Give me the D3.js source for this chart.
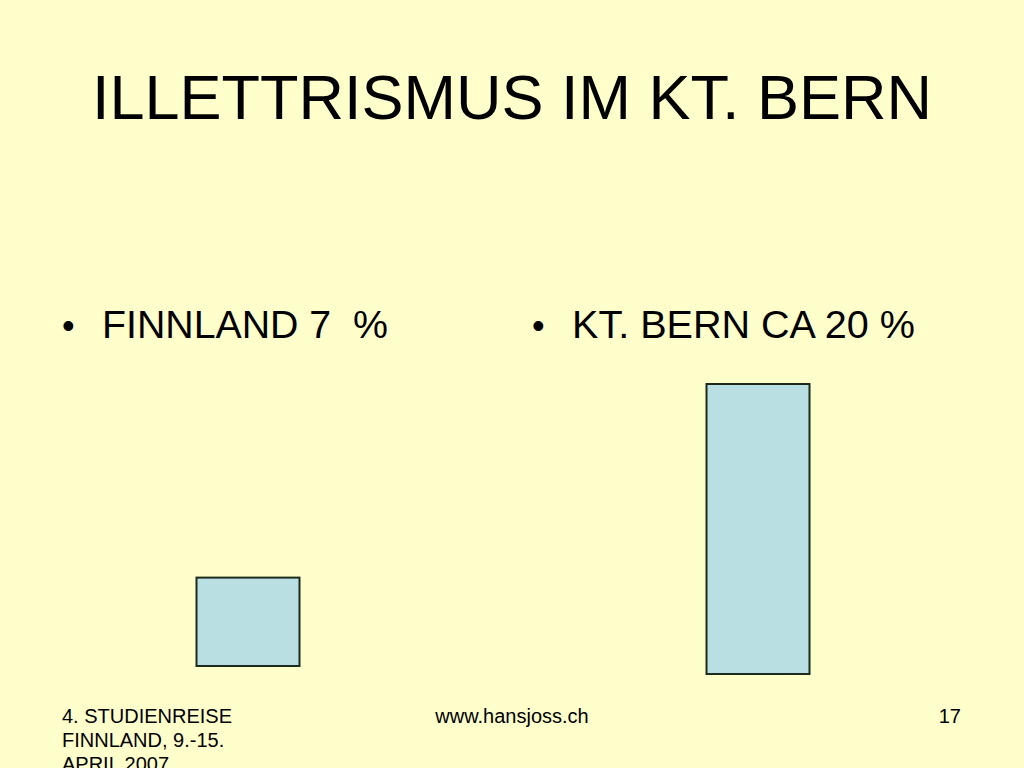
<!DOCTYPE html>
<html>
<head>
<meta charset="utf-8">
<script src="https://cdn.jsdelivr.net/npm/d3@7"></script>
<style>
  html, body { margin: 0; padding: 0; background: #FFFFCC; overflow: hidden; }
  svg { display: block; }
  text { font-family: "Liberation Sans", Arial, sans-serif; fill: #000; white-space: pre; }
</style>
</head>
<body>
<script>
// ---- data ----
const title = "ILLETTRISMUS IM KT. BERN";
const categories = ["FINNLAND", "KT. BERN"];
const labels = ["FINNLAND 7  %", "KT. BERN CA 20 %"];
const values = [7, 20];
const footerLeft = ["4. STUDIENREISE", "FINNLAND, 9.-15.", "APRIL 2007"];
const footerCenter = "www.hansjoss.ch";
const footerRight = "17";

// ---- layout ----
const W = 1024, H = 768;
const svg = d3.select("body").append("svg").attr("width", W).attr("height", H);
svg.append("rect").attr("width", W).attr("height", H).attr("fill", "#FFFFCC");

svg.append("text")
  .attr("x", 512).attr("y", 119)
  .attr("text-anchor", "middle")
  .attr("font-size", 63)
  .text(title);

// bullets
const bulletX = d3.scalePoint().domain(categories).range([62, 532]);
const bl = svg.selectAll("g.bullet").data(categories).enter().append("g").attr("class", "bullet");
bl.append("text")
  .attr("x", d => bulletX(d)).attr("y", 338)
  .attr("font-size", 36)
  .text("•");
bl.append("text")
  .attr("x", d => bulletX(d) + 40).attr("y", 338)
  .attr("font-size", 38)
  .attr("xml:space", "preserve")
  .attr("textLength", (d, i) => i === 0 ? 286 : 343)
  .attr("lengthAdjust", "spacingAndGlyphs")
  .text((d, i) => labels[i]);

// bars
const x = d3.scalePoint().domain(categories).range([248, 758]);
const h = d3.scaleLinear().domain([1.3, 20]).range([0, 290]);
const barW = 103;
const baseline = [666, 674];
svg.selectAll("rect.bar").data(values).enter().append("rect")
  .attr("class", "bar")
  .attr("x", (d, i) => x(categories[i]) - barW / 2)
  .attr("y", (d, i) => baseline[i] - h(d))
  .attr("width", barW)
  .attr("height", d => h(d))
  .attr("fill", "#B9DFE3")
  .attr("stroke", "#1b2a1b")
  .attr("stroke-width", 2);

// footer
svg.append("g").selectAll("text").data(footerLeft).enter().append("text")
  .attr("x", 62).attr("y", (d, i) => 723 + i * 24)
  .attr("font-size", 20)
  .text(d => d);
svg.append("text").attr("x", 512).attr("y", 723).attr("text-anchor", "middle")
  .attr("font-size", 20).text(footerCenter);
svg.append("text").attr("x", 961).attr("y", 723).attr("text-anchor", "end")
  .attr("font-size", 20).text(footerRight);
</script>
</body>
</html>
